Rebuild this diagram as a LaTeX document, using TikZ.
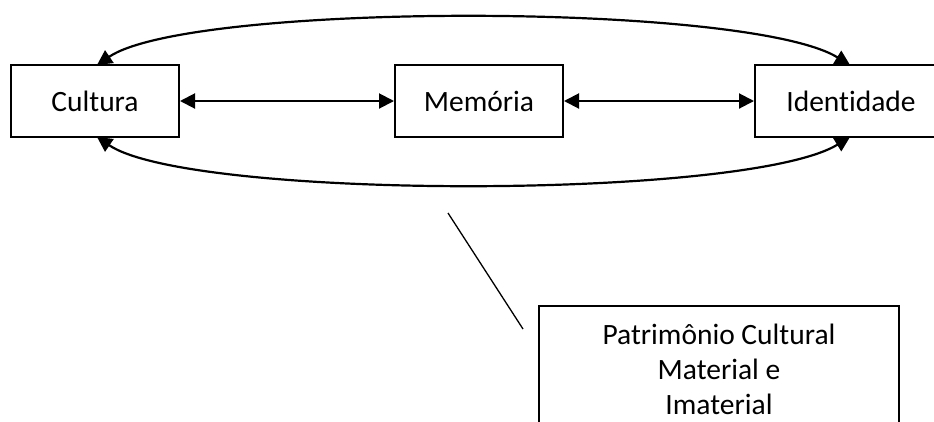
\documentclass[tikz,border=0pt]{standalone}
\usepackage{fontspec}
\setmainfont{Carlito}[Ligatures=NoCommon]
\usetikzlibrary{arrows.meta}
\begin{document}
\begin{tikzpicture}[x=1pt,y=-1pt,
  box/.style={draw, line width=2pt, inner sep=0pt, font=\fontsize{29.5}{35}\selectfont},
  arc/.style={line width=2.2pt, {Triangle[length=15pt,width=15pt]}-{Triangle[length=15pt,width=15pt]}},
  biconn/.style={line width=2pt, {Triangle[length=15pt,width=15pt]}-{Triangle[length=15pt,width=15pt]}}]
\clip (0,0) rectangle (934,421);
\fill[white] (0,0) rectangle (934,421);
\node[box, minimum width=168pt, minimum height=72pt] (cul) at (95,101) {Cultura};
\node[box, minimum width=168pt, minimum height=72pt] (mem) at (479,101) {Memória};
\node[box, minimum width=192pt, minimum height=72pt] (ide) at (851,101) {Identidade};
\node[box, anchor=north, minimum width=360pt, inner ysep=18pt, align=center] (pat) at (719,305)
  {Patrimônio Cultural\\Material e\\Imaterial};
\draw[biconn] (cul.east) -- (mem.west);
\draw[biconn] (mem.east) -- (ide.west);
\draw[arc] ([xshift=2pt,yshift=-1pt]cul.north) .. controls (190,2) and (747,2) .. ([xshift=-1pt,yshift=-1pt]ide.north);
\draw[arc] ([xshift=2pt,yshift=1pt]cul.south) .. controls (190,200) and (747,200) .. ([xshift=-1pt,yshift=1pt]ide.south);
\coordinate (la) at (448,213);
\coordinate (lb) at (523,329);
\draw[line width=1.3pt] (la) -- (lb);
\end{tikzpicture}
\end{document}
